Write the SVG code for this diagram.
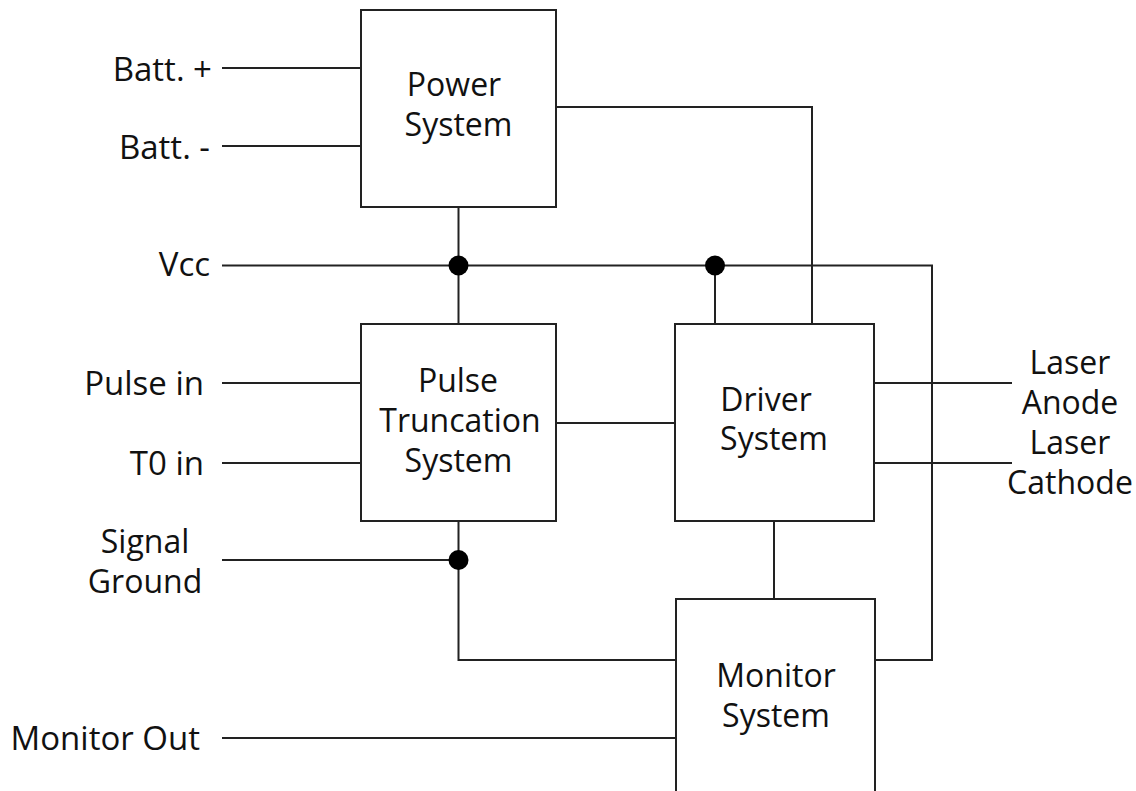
<svg xmlns="http://www.w3.org/2000/svg" width="1136" height="791" viewBox="0 0 1136 791">
<style>
.box{fill:#fff;stroke:#222;stroke-width:2}
.w{fill:none;stroke:#222;stroke-width:2}
.dot{fill:#000}
text{font-family:"Open Sans","Noto Sans","DejaVu Sans",sans-serif;font-size:32px;fill:#111}
.lbl{font-size:33px}
.c{text-anchor:middle}
.e{text-anchor:end}
</style>
<rect width="1136" height="791" fill="#fff"/>
<g id="connectors">
<path class="w" d="M222 68H361M222 146H361"/>
<path class="w" d="M222 265.5H932V660H875"/>
<path class="w" d="M458.5 207V324"/>
<path class="w" d="M715 265.5V324"/>
<path class="w" d="M556 107H812V324"/>
<path class="w" d="M222 383H361M222 463H361"/>
<path class="w" d="M556 423H675"/>
<path class="w" d="M874 383H1012M874 463H1012"/>
<path class="w" d="M222 560H458.5M458.5 521V660H676"/>
<path class="w" d="M774 521V599"/>
<path class="w" d="M222 738H676"/>
<circle class="dot" cx="458.5" cy="265.5" r="10"/>
<circle class="dot" cx="715" cy="265.5" r="10"/>
<circle class="dot" cx="458.5" cy="560" r="10"/>
</g>
<g id="power">
<rect class="box" x="361" y="10" width="195" height="197"/>
<text class="c" x="454" y="96">Power</text>
<text class="c" x="458.5" y="136">System</text>
</g>
<g id="pulse">
<rect class="box" x="361" y="324" width="195" height="197"/>
<text class="c" x="458" y="392">Pulse</text>
<text class="c" x="460" y="432">Truncation</text>
<text class="c" x="458.5" y="472">System</text>
</g>
<g id="driver">
<rect class="box" x="675" y="324" width="199" height="197"/>
<text class="c" x="766" y="411">Driver</text>
<text class="c" x="774" y="450">System</text>
</g>
<g id="monitor">
<rect class="box" x="676" y="599" width="199" height="210"/>
<text class="c" x="776" y="687">Monitor</text>
<text class="c" x="776" y="727">System</text>
</g>
<g id="labels">
<text class="e lbl" x="212" y="80.5">Batt. +</text>
<text class="e lbl" x="210" y="159">Batt. -</text>
<text class="e lbl" x="210" y="276">Vcc</text>
<text class="e lbl" x="204" y="395">Pulse in</text>
<text class="e lbl" x="204" y="475">T0 in</text>
<text class="c" x="145" y="553">Signal</text>
<text class="c" x="145" y="593">Ground</text>
<text class="e lbl" x="200" y="750">Monitor Out</text>
<text class="c" x="1070" y="374">Laser</text>
<text class="c" x="1070" y="414">Anode</text>
<text class="c" x="1070" y="454">Laser</text>
<text class="c" x="1070" y="494">Cathode</text>
</g>
</svg>
